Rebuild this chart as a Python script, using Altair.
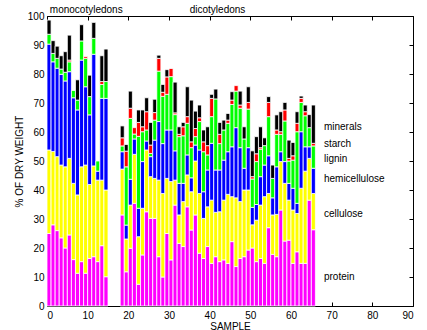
import altair as alt
import pandas as pd

# ---- data ----
components = ["protein", "cellulose", "hemicellulose", "lignin", "starch", "minerals"]
colors = ["#ff00ff", "#ffff00", "#0000ff", "#00ff00", "#ff0000", "#000000"]

# left edge of each sample bar (monocots 0..14, dicots 18..65)
sample_start = list(range(0, 15)) + list(range(18, 66))

protein = [25, 28, 26, 23.5, 20, 24.5, 16, 11.3, 15.3, 11.3, 16.4, 17, 15.3, 20.8, 10.1,
           31.4, 11.8, 19.9, 35.4, 7.5, 17.6, 32.5, 30.2, 30.2, 17.0, 10, 25, 15.9, 34.8, 21.6, 20.5,
           34.2, 26.2, 31.4, 18.2, 16.4, 20.5, 14.7, 17.0, 15.3, 15.9, 14.7, 22.2, 13.6, 16.4, 17.0,
           19.3, 20, 15.3, 16.4, 14.7, 27.0, 17.8, 17.0, 33.1, 22.4, 22.7, 14.7, 18.7, 14.7, 14.7,
           36.5, 26.3]
cellulose = [28.8, 25.3, 25.5, 25.1, 28, 26.4, 26.3, 27, 32.7, 37.3, 25.5, 31.3, 28.1, 22.6, 29.9,
             15.8, 11.3, 14.9, 16.9, 16.4, 16.1, 21.3, 14.4, 13.8, 26.4, 28.8, 19, 27.0, 8.6, 9.8,
             15.5, 11.0, 13.2, 18.6, 20.6, 13.8, 13.7, 21.8, 15.3, 17.2, 20.6, 23.8, 15.5, 23.7,
             19.6, 23, 20.7, 8, 14.3, 18.4, 23, 11.8, 13.6, 14.6, 16.7, 19.9, 13.8, 18.4, 13.2,
             25.9, 31.8, 14.4, 12.5]
hemicellulose = [36.5, 30.9, 30.5, 31.3, 29.6, 29.9, 29.5, 29.3, 36.8, 27, 24, 38.5, 3.1, 28.2, 31.6,
                 6.0, 4.8, 8.9, 5.3, 9.8, 16.1, 3.1, 6.9, 13.2, 20.2, 17.2, 16.7, 17.8, 10.1, 10.9,
                 6.3, 6.9, 4.8, 5.5, 15.0, 9.2, 12.7, 19.6, 14.6, 14.4, 13.8, 14.7, 17.2, 24.2, 18.6,
                 7.5, 14.6, 6, 5.4, 9.8, 10.9, 13, 5.9, 16.4, 3.4, 7.5, 5.8, 7.5, 3.5, 19.5, 8.4,
                 4.0, 8.7]
lignin = [3.4, 2.9, 3.4, 1.8, 3, 3.4, 2.5, 3.4, 6.6, 9.8, 6.3, 5.5, 3.5, 4.8, 5.8,
          2.0, 20.1, 21.0, 1.7, 24.8, 10.3, 3.8, 1.1, 6.9, 17.4, 16.3, 12.3, 18.4, 12.5, 16.1,
          16.4, 10.9, 10.4, 2.9, 9.8, 13.8, 5.2, 9.2, 24.5, 9.1, 10.4, 9.8, 14.6, 12.6, 13.6,
          10.1, 13.3, 9.8, 14.8, 9.5, 6.7, 13.5, 6.7, 11.2, 6.0, 14.0, 7.7, 9.7, 24.7, 10.1,
          10.7, 6.6, 7.7]
starch = [0, 0, 0, 0, 0, 0.6, 0, 0, 0, 0.6, 0, 0, 0, 1.0, 0,
          2.8, 5.4, 3.5, 2.2, 4.8, 1.7, 6.3, 2.9, 2.6, 4.4, 1.4, 6.0, 2.8, 0.6, 0.8, 3.1, 2.3,
          2.0, 2.8, 1.3, 3.4, 3.2, 6.3, 0, 3.2, 0, 1.1, 1.5, 1.9, 1.1, 0, 2.3, 0.8, 2.7, 0.5,
          0, 4.9, 0, 1.5, 0.9, 3.8, 0.9, 1.5, 2.9, 1.4, 1.4, 0, 0.9]
minerals = [4.9, 4.4, 4.2, 4.6, 7.1, 8.6, 0, 7, 5.6, 0, 7.4, 5.5, 0, 8.9, 11.2,
            4.1, 2.3, 5.9, 0, 4.3, 5.8, 4.8, 7.8, 4.6, 1.1, 2.7, 2.5, 0, 10.6, 2.6, 1.5, 10.3,
            14.4, 6.0, 4.4, 4.1, 6.5, 1.4, 3.4, 4.1, 3.4, 2.3, 2.9, 0, 4.8, 4.2, 5.4, 8.9, 5.9,
            7.2, 2.7, 2.0, 4.6, 5.2, 6.9, 2.6, 6.3, 4.6, 4.0, 0.8, 2.3, 4.5, 13.2]

# right-hand labels: (text, sample position, % position)
side_labels = ["minerals", "starch", "lignin", "hemicellulose", "cellulose", "protein"]
side_label_x = [68.1, 68.1, 68.1, 68.1, 68.1, 68.1]
side_label_y = [61.7, 56.0, 50.8, 43.8, 31.7, 10.0]

group_labels = ["monocotyledons", "dicotyledons"]
group_label_x = [0.7, 35.1]
group_label_y = [102.2, 102.2]

x_ticks = list(range(0, 91, 10))
y_ticks = list(range(0, 101, 10))

# ---- build stacked table ----
series = [protein, cellulose, hemicellulose, lignin, starch, minerals]
rows = []
for i, s in enumerate(sample_start):
    base = 0.0
    for k, (comp, vals) in enumerate(zip(components, series)):
        v = vals[i]
        if v > 0:
            rows.append(dict(x0=s, x1=s + 1, y0=base, y1=base + v, comp=comp, k=k))
        base += v
df = pd.DataFrame(rows)

W, H = 366, 290
xs = alt.Scale(domain=[0, 90], nice=False, zero=False)
ys = alt.Scale(domain=[0, 100], nice=False)
font = "Liberation Sans"

bars = alt.Chart(df).mark_bar(stroke="white", strokeWidth=0.8).encode(
    x=alt.X("x0:Q", scale=xs,
            axis=alt.Axis(values=x_ticks, ticks=False, domain=False, grid=False,
                          title="SAMPLE", labelPadding=4, titlePadding=1)),
    x2="x1:Q",
    y=alt.Y("y0:Q", scale=ys,
            axis=alt.Axis(values=y_ticks, ticks=False, domain=False, grid=False,
                          title="% OF DRY WEIGHT", labelPadding=3, titlePadding=3)),
    y2="y1:Q",
    color=alt.Color("comp:N", scale=alt.Scale(domain=components, range=colors), legend=None),
)

tick_style = dict(labels=False, domain=False, grid=False, ticks=True, tickSize=4,
                  tickColor="black", tickWidth=1, title=None)

ticks_a = alt.Chart(df).mark_point(opacity=0).encode(
    x=alt.X("x0:Q", scale=xs, axis=alt.Axis(values=x_ticks, orient="top", offset=-H, **tick_style)),
    y=alt.Y("y0:Q", scale=ys, axis=alt.Axis(values=y_ticks, orient="right", offset=-W, **tick_style)),
)
ticks_b = alt.Chart(df).mark_point(opacity=0).encode(
    x=alt.X("x0:Q", scale=xs, axis=alt.Axis(values=x_ticks, orient="bottom", offset=-H, **tick_style)),
    y=alt.Y("y0:Q", scale=ys, axis=alt.Axis(values=y_ticks, orient="left", offset=-W, **tick_style)),
)

side_df = pd.DataFrame(dict(t=side_labels, x=side_label_x, y=side_label_y))
side = alt.Chart(side_df).mark_text(align="left", baseline="middle", font=font, fontSize=10,
                                    color="black").encode(
    x=alt.X("x:Q", scale=xs, axis=None), y=alt.Y("y:Q", scale=ys, axis=None), text="t:N")

grp_df = pd.DataFrame(dict(t=group_labels, x=group_label_x, y=group_label_y))
grp = alt.Chart(grp_df).mark_text(align="left", baseline="middle", font=font, fontSize=10,
                                  color="black", clip=False).encode(
    x=alt.X("x:Q", scale=xs, axis=None), y=alt.Y("y:Q", scale=ys, axis=None), text="t:N")

chart = alt.layer(bars, ticks_a, ticks_b, side, grp).resolve_axis(
    x="independent", y="independent"
).properties(
    width=W, height=H,
    autosize=alt.AutoSizeParams(type="none"),
    padding={"left": 47, "top": 16, "right": 14, "bottom": 24},
    background="white",
).configure_view(
    stroke="black", strokeWidth=1
).configure_axis(
    labelFont=font, labelFontSize=10, labelColor="black",
    titleFont=font, titleFontSize=10, titleFontWeight="normal", titleColor="black",
)

chart.save("out.html", embed_options={"renderer": "svg", "actions": False})
